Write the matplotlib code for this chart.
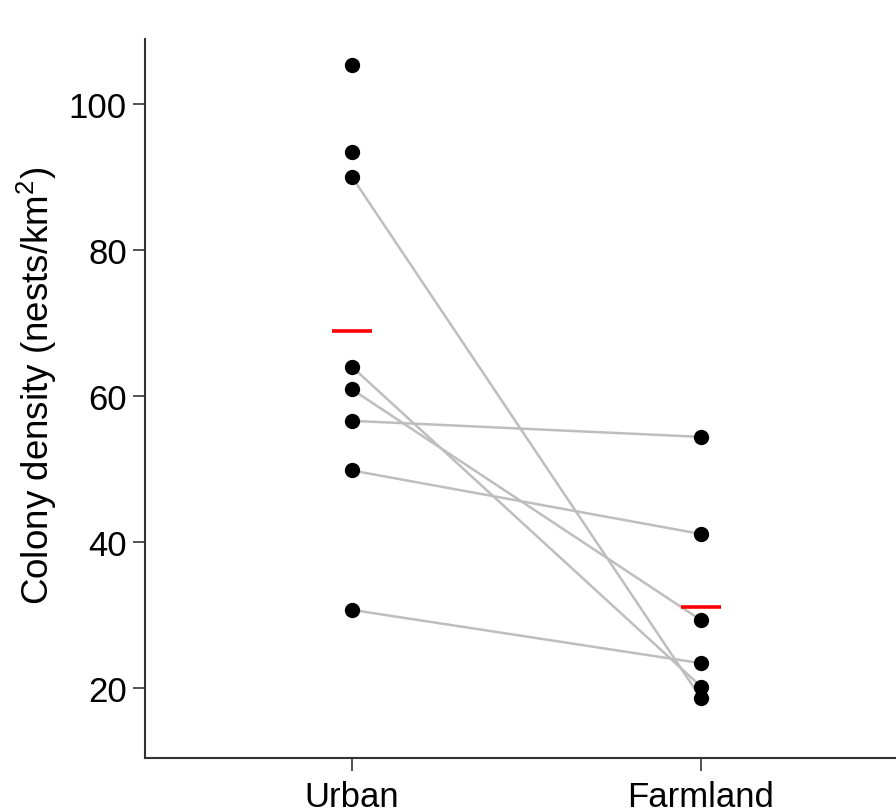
import numpy as np
import matplotlib
matplotlib.use('Agg')
import matplotlib.pyplot as plt

plt.rcParams['font.family'] = ['Liberation Sans', 'DejaVu Sans']
plt.rcParams['mathtext.fontset'] = 'custom'
plt.rcParams['mathtext.rm'] = 'Liberation Sans'
plt.rcParams['mathtext.default'] = 'regular'

habitats = ['Urban', 'Farmland']

# colony densities (nests/km2)
urban = [105.4, 93.4, 90.0, 64.0, 60.9, 56.6, 49.8, 30.7]
farmland = [54.4, 41.1, 29.3, 23.4, 20.2, 18.6]

# sites surveyed in both habitats: (urban, farmland)
paired_urban = [90.0, 64.0, 60.9, 56.6, 49.8, 30.7]
paired_farmland = [18.6, 20.2, 29.3, 54.4, 41.1, 23.4]

yticks = [20, 40, 60, 80, 100]

fig = plt.figure(figsize=(8.96, 8.12), dpi=100)
ax = fig.add_axes([145 / 896, 1 - 759 / 812, 1 - 145 / 896, (759 - 40) / 812])

x_pos = np.arange(1, len(habitats) + 1)

# connecting lines for paired sites
for u, f in zip(paired_urban, paired_farmland):
    ax.plot(x_pos, [u, f], color='#bebebe', lw=1.8, zorder=1, solid_capstyle='butt')

ax.plot(np.full(len(urban), x_pos[0]), urban, 'o', color='black', ms=10, zorder=3)
ax.plot(np.full(len(farmland), x_pos[1]), farmland, 'o', color='black', ms=10, zorder=3)

# group means
for xp, vals in zip(x_pos, [urban, farmland]):
    m = np.mean(vals)
    ax.plot([xp - 0.056, xp + 0.056], [m, m], color='#ff0000', lw=2.6, zorder=2,
            solid_capstyle='butt')

ax.set_xlim(1 - 207 / 349, 2 + 195 / 349)
ax.set_ylim(20 - 70 / 7.304, 100 + 65 / 7.304)

ax.set_xticks(x_pos)
ax.set_xticklabels(habitats)
ax.set_yticks(yticks)

for side in ['top', 'right']:
    ax.spines[side].set_visible(False)
for side in ['left', 'bottom']:
    ax.spines[side].set_color('#333333')
    ax.spines[side].set_linewidth(1.5)

ax.tick_params(axis='both', length=9, width=1.3, color='#444444', labelsize=25)
ax.tick_params(axis='y', pad=4)
ax.tick_params(axis='x', pad=7)

ax.set_ylabel('Colony density (nests/km$^2$)', fontsize=26.5, labelpad=7)
ax.yaxis.label.set_y(0.519)

fig.savefig('out.png', dpi=100)
